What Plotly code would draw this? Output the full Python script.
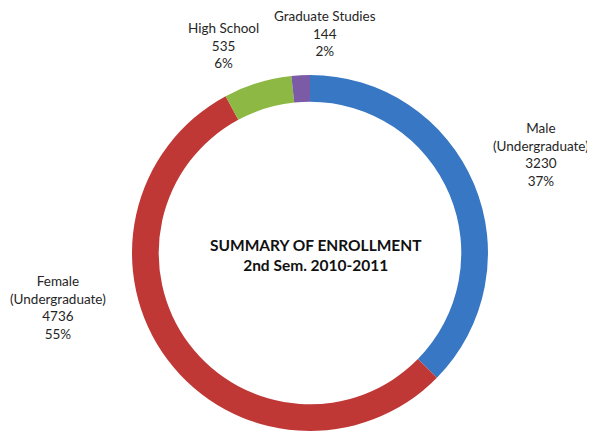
import plotly.graph_objects as go

categories = ["Male<br>(Undergraduate)", "Female<br>(Undergraduate)", "High School", "Graduate Studies"]
values = [3230, 4736, 535, 144]
colors = ["#3777c4", "#bf3836", "#8db843", "#7b5aa6"]
title_lines = ["SUMMARY OF ENROLLMENT", "2nd Sem. 2010-2011"]

total = sum(values)

# page body has an 8px margin, so the figure is drawn 8px smaller
W, H = 587, 426

fig = go.Figure(go.Pie(
    labels=categories,
    values=values,
    hole=0.85,
    sort=False,
    direction="clockwise",
    rotation=0,
    textinfo="none",
    marker=dict(colors=colors, line=dict(width=0)),
    domain=dict(x=[0.2112, 0.8177], y=[0.00704, 0.8427]),
    showlegend=False,
))

label_pos = [(0.908, 0.655), (0.0852, 0.2958), (0.3663, 0.9108), (0.540, 0.9413)]
for cat, v, (x, y) in zip(categories, values, label_pos):
    fig.add_annotation(
        x=x, y=y, xref="paper", yref="paper",
        text=f"{cat}<br>{v}<br>{round(100 * v / total)}%",
        showarrow=False, xanchor="center", yanchor="middle",
        font=dict(family="Lato, Open Sans, sans-serif", size=13.5, color="#262626"),
    )

fig.add_annotation(
    x=0.5247, y=0.4202, xref="paper", yref="paper",
    text="<b>" + "<br>".join(title_lines) + "</b>",
    showarrow=False, xanchor="center", yanchor="middle",
    font=dict(family="Lato, Open Sans, sans-serif", size=15.5, color="#111111"),
)

fig.update_layout(
    width=W, height=H,
    margin=dict(l=0, r=0, t=0, b=0),
    paper_bgcolor="white", plot_bgcolor="white",
)

fig.write_html("out.html")
